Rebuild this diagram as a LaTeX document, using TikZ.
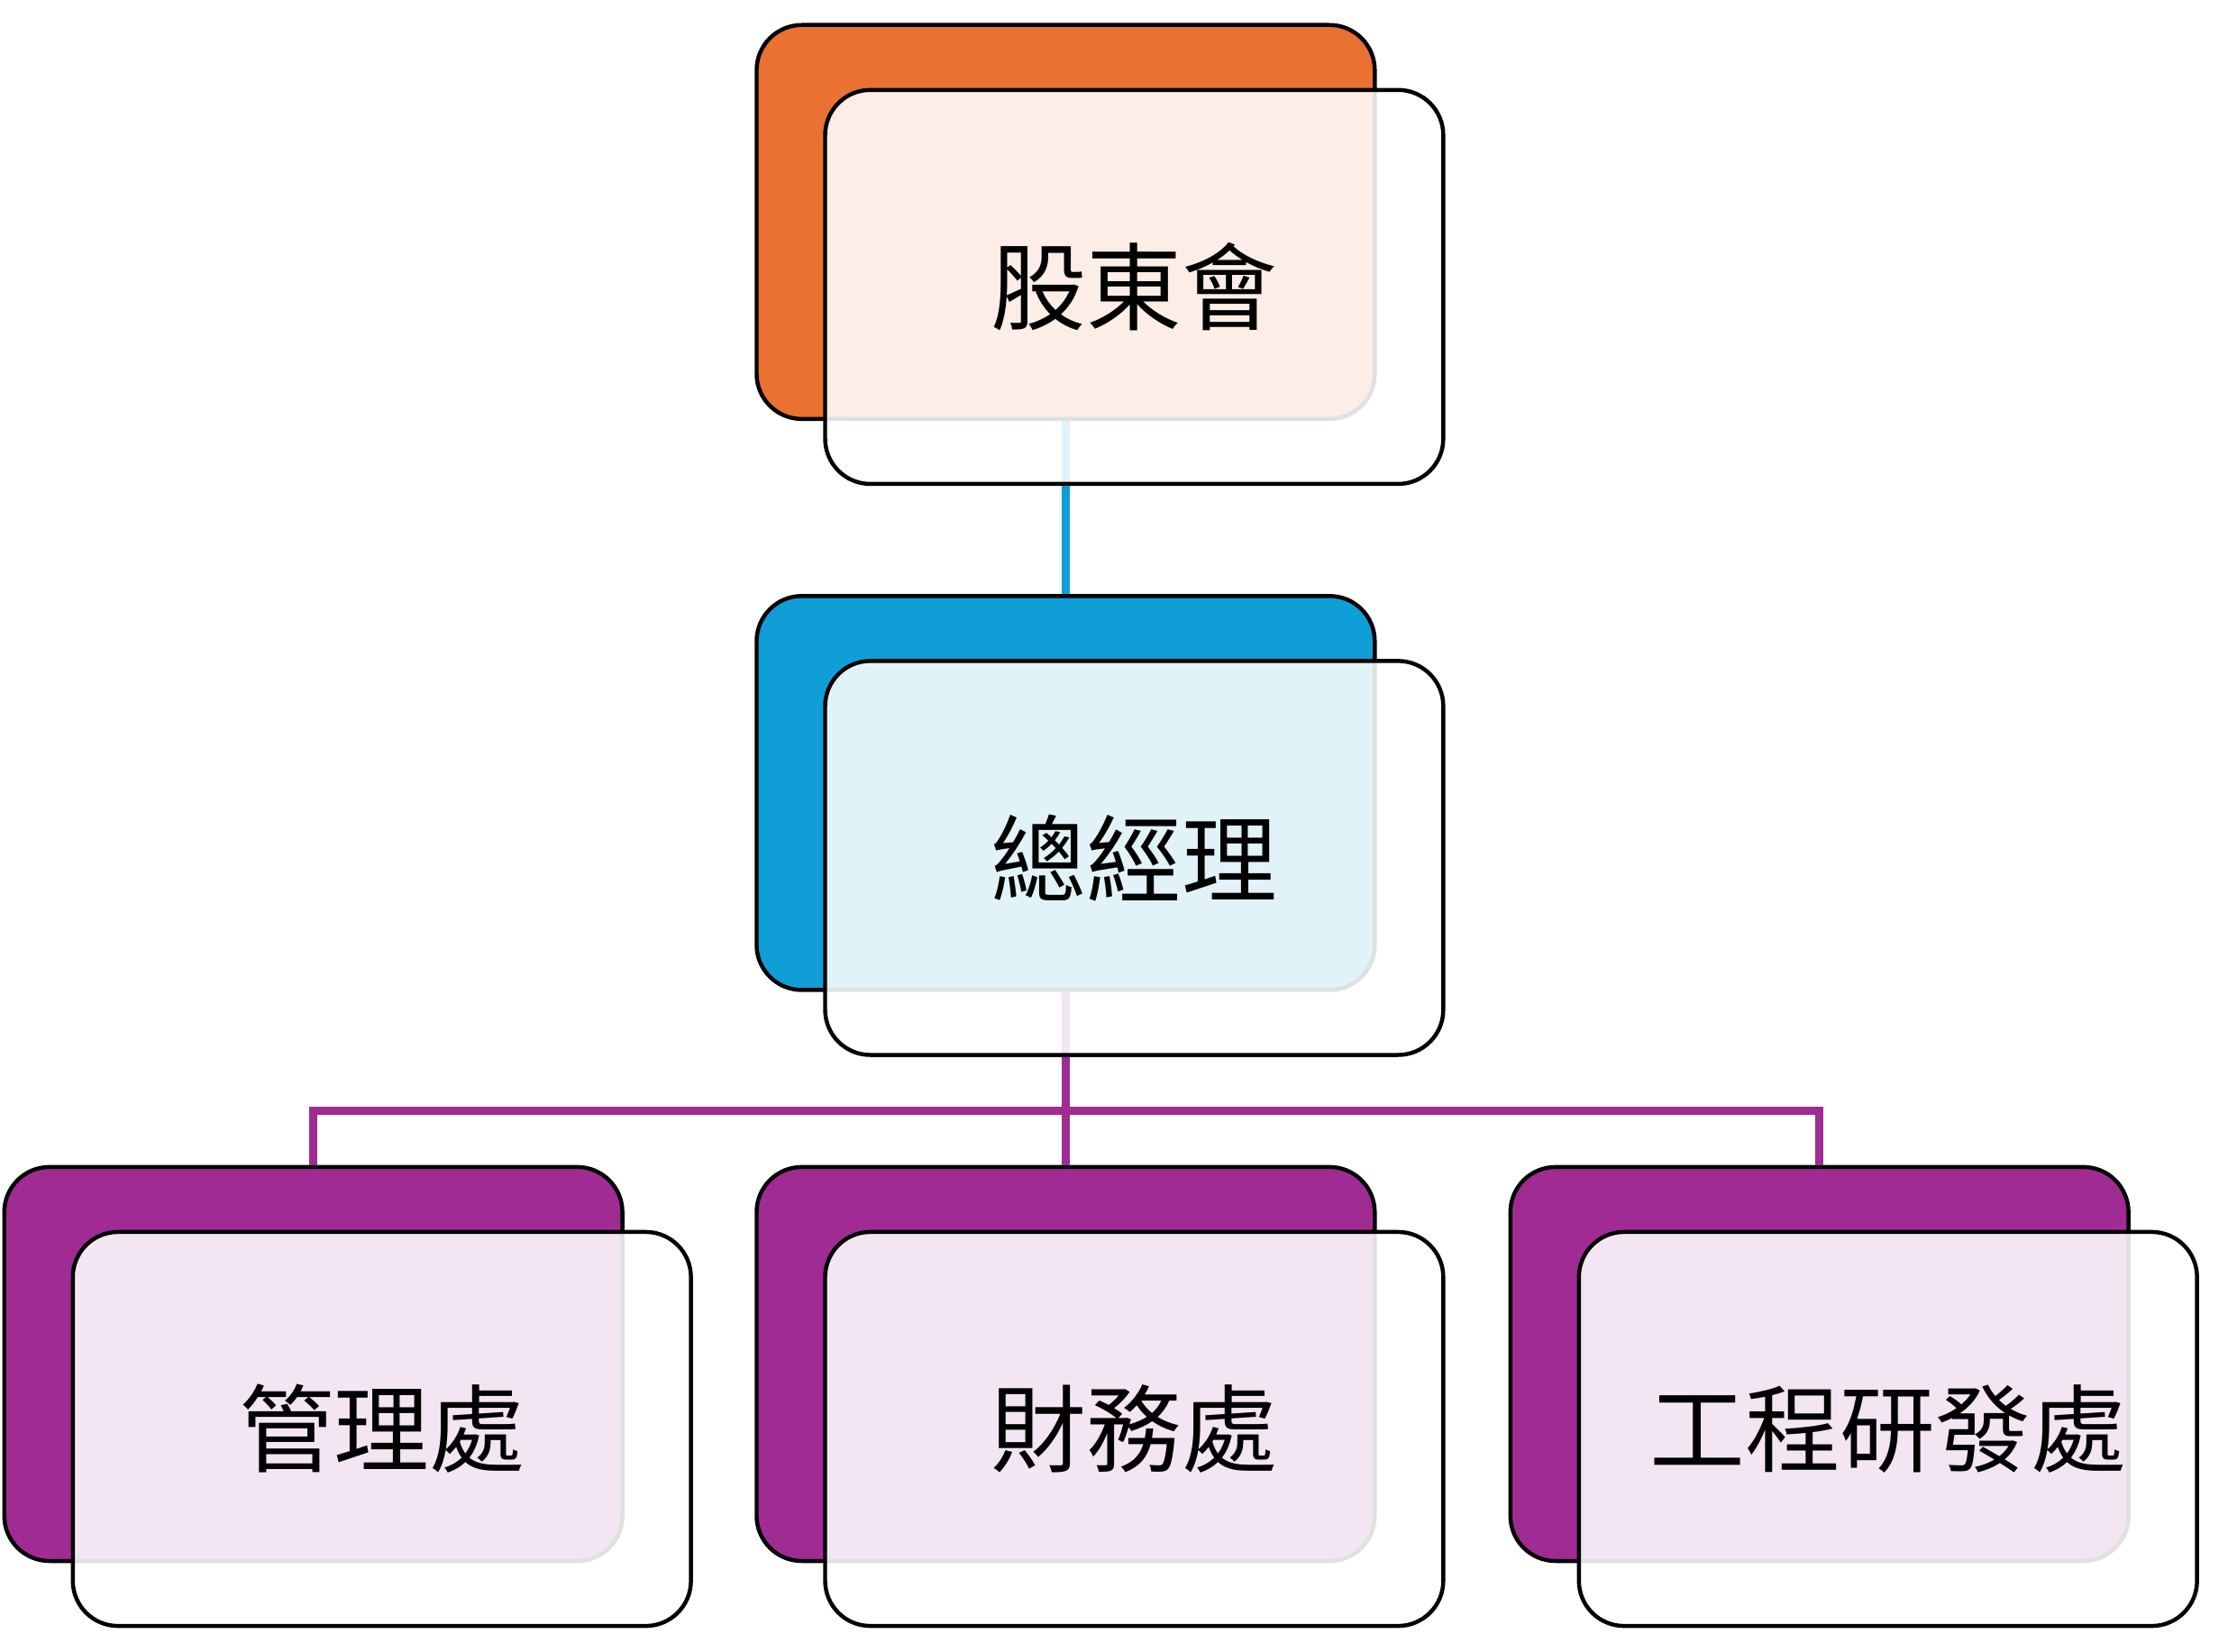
\documentclass[tikz,border=0pt]{standalone}
\usepackage{fontspec}
\newfontfamily\cjk{Noto Sans CJK TC}
\usetikzlibrary{positioning}
\definecolor{orgA}{HTML}{E97132}
\definecolor{bluA}{HTML}{0F9ED5}
\definecolor{purA}{HTML}{A02B93}
\begin{document}
\begin{tikzpicture}[x=1cm, y=1cm, line width=0.8pt]
			\tikzstyle{back}  = [rectangle, rounded corners=9pt, minimum width=4.33cm, minimum height=2.76cm, draw=black, inner sep=0pt]
			\tikzstyle{front} = [rectangle, rounded corners=9pt, minimum width=4.33cm, minimum height=2.76cm, draw=black, fill=white, fill opacity=0.88, text opacity=1, inner sep=0pt, font=\cjk\fontsize{19pt}{22pt}\selectfont]
			\useasboundingbox (0,0) rectangle (15.67,-11.57);

			% back boxes
			\node[back, fill=orgA] (board) at (7.465, -1.555) {};
			\node[back, fill=bluA] (gm)    at (7.465, -5.555) {};
			\foreach \name/\x in {mgmt/2.195, fin/7.465, eng/12.745}
				\node[back, fill=purA] (\name) at (\x, -9.555) {};

			% connectors
			\draw[bluA, line width=1.6pt] (board.south) -- (gm.north);
			\coordinate (bus) at (7.465, -7.78);
			\draw[purA, line width=1.6pt] (gm.south) -- (bus);
			\foreach \name in {mgmt, fin, eng}
				\draw[purA, line width=1.6pt] (bus) -| (\name.north);

			% front boxes
			\foreach \name/\text in {board/股東會, gm/總經理, mgmt/管理處, fin/財務處, eng/工程研發處}
				\node[front] (\name f) at ([shift={(0.48,-0.455)}]\name.center) {\text};

\end{tikzpicture}
\end{document}
